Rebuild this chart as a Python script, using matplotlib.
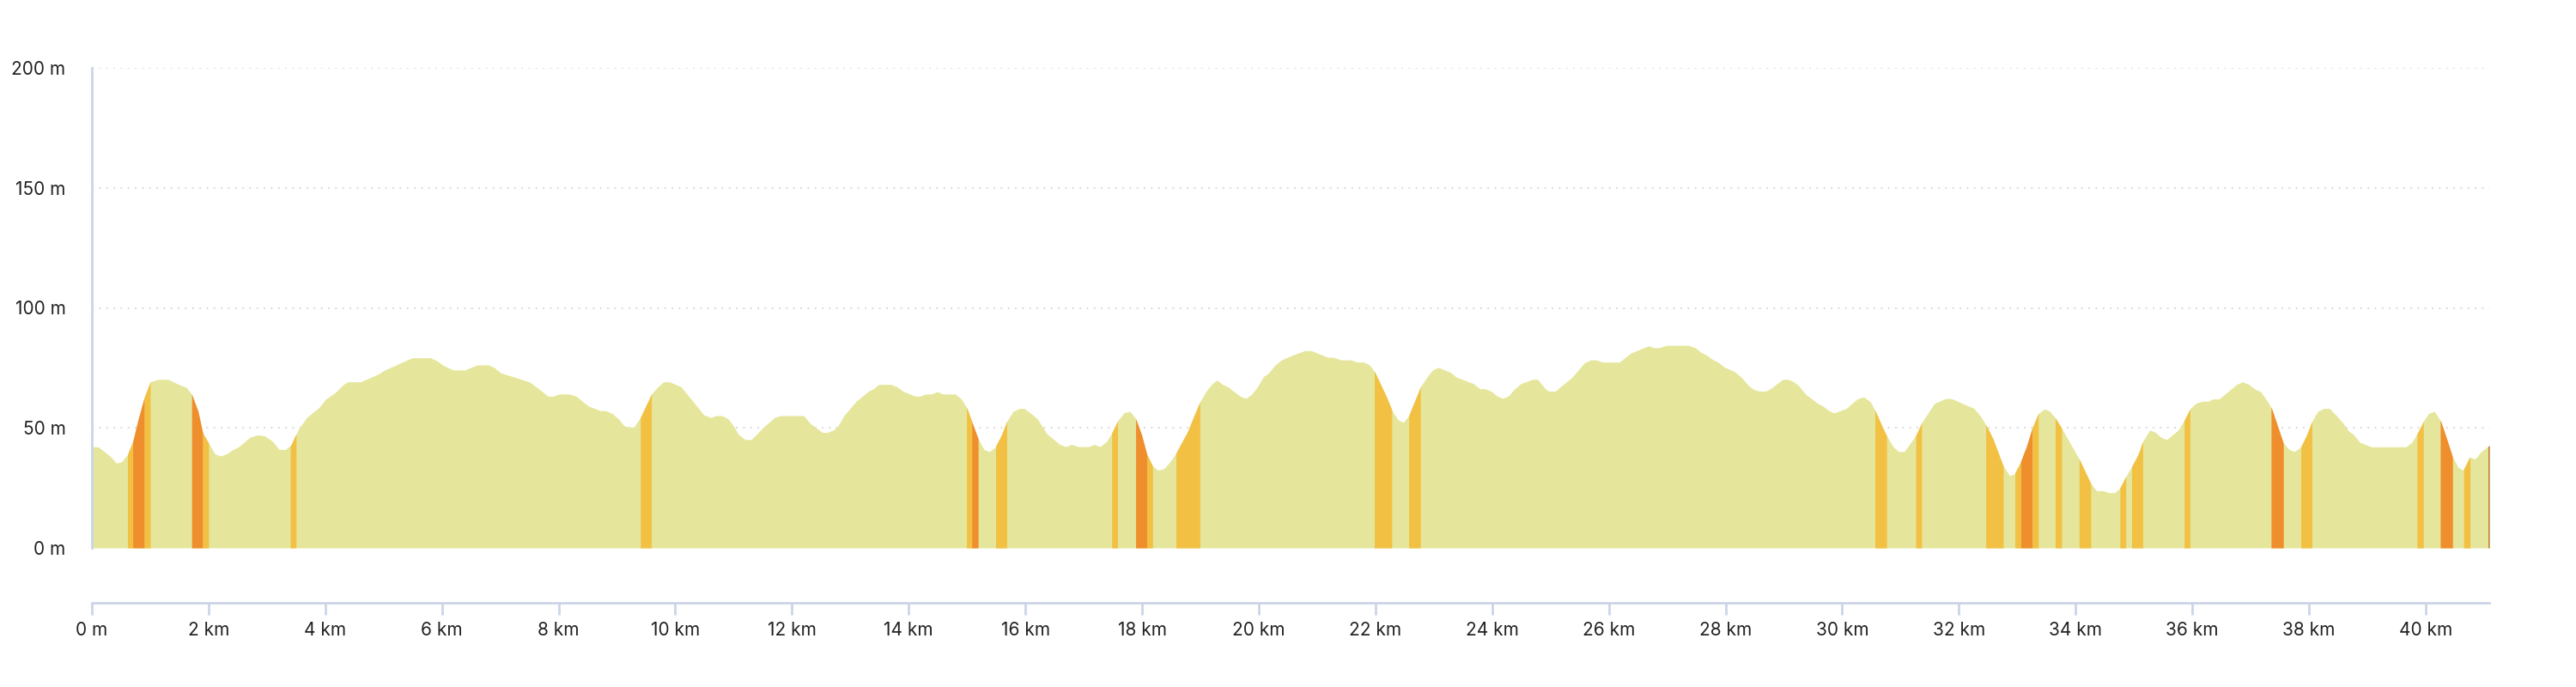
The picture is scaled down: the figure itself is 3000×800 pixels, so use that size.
import numpy as np
import matplotlib.pyplot as plt

# elevation profile (km, m)
distance_km = [
    0.00, 0.11, 0.31, 0.42, 0.51, 0.61, 0.70, 0.79, 0.90, 1.00, 1.13, 1.31, 1.46, 1.62,
    1.71, 1.82, 1.90, 2.00, 2.11, 2.21, 2.31, 2.42, 2.52, 2.71, 2.84, 2.96, 3.10, 3.21,
    3.32, 3.41, 3.50, 3.58, 3.69, 3.89, 4.01, 4.17, 4.31, 4.39, 4.61, 4.90, 5.02, 5.49,
    5.80, 5.91, 6.01, 6.19, 6.39, 6.60, 6.80, 6.90, 7.01, 7.25, 7.51, 7.82, 7.90, 8.01,
    8.18, 8.30, 8.51, 8.71, 8.80, 8.92, 9.03, 9.12, 9.20, 9.29, 9.40, 9.59, 9.70, 9.80,
    9.90, 10.10, 10.30, 10.49, 10.61, 10.69, 10.80, 10.90, 11.00, 11.08, 11.20, 11.30,
    11.39, 11.51, 11.70, 11.80, 12.20, 12.31, 12.52, 12.60, 12.71, 12.79, 12.89, 13.10,
    13.31, 13.39, 13.49, 13.70, 13.80, 13.90, 14.11, 14.19, 14.29, 14.39, 14.49, 14.59,
    14.80, 14.90, 15.00, 15.09, 15.19, 15.29, 15.38, 15.48, 15.59, 15.68, 15.79, 15.90,
    15.98, 16.08, 16.20, 16.37, 16.59, 16.69, 16.79, 16.90, 17.09, 17.18, 17.28, 17.39,
    17.48, 17.58, 17.69, 17.79, 17.89, 17.99, 18.08, 18.18, 18.28, 18.38, 18.48, 18.58,
    18.78, 18.89, 18.99, 19.10, 19.19, 19.28, 19.38, 19.47, 19.68, 19.78, 19.87, 19.97,
    20.08, 20.17, 20.28, 20.39, 20.59, 20.79, 20.90, 21.18, 21.28, 21.41, 21.58, 21.69,
    21.80, 21.90, 21.99, 22.19, 22.29, 22.39, 22.48, 22.57, 22.67, 22.77, 22.89, 22.98,
    23.08, 23.28, 23.39, 23.68, 23.79, 23.88, 23.98, 24.09, 24.18, 24.28, 24.37, 24.49,
    24.69, 24.78, 24.91, 24.97, 25.08, 25.37, 25.58, 25.69, 25.79, 25.89, 26.18, 26.38,
    26.68, 26.77, 26.87, 26.98, 27.36, 27.48, 27.59, 27.67, 27.79, 27.87, 27.98, 28.15,
    28.27, 28.40, 28.49, 28.59, 28.68, 28.77, 28.98, 29.07, 29.17, 29.26, 29.37, 29.58,
    29.67, 29.77, 29.86, 30.07, 30.26, 30.37, 30.48, 30.57, 30.69, 30.77, 30.88, 30.97,
    31.06, 31.16, 31.27, 31.36, 31.58, 31.78, 31.88, 32.26, 32.38, 32.47, 32.58, 32.76,
    32.87, 32.95, 33.05, 33.16, 33.26, 33.36, 33.47, 33.56, 33.65, 33.75, 34.06, 34.26,
    34.36, 34.47, 34.58, 34.67, 34.76, 34.86, 34.96, 35.07, 35.15, 35.27, 35.37, 35.46,
    35.56, 35.76, 35.86, 35.96, 36.06, 36.17, 36.27, 36.36, 36.46, 36.76, 36.86, 36.97,
    37.07, 37.17, 37.26, 37.36, 37.46, 37.56, 37.66, 37.75, 37.86, 37.96, 38.05, 38.15,
    38.25, 38.35, 38.46, 38.58, 38.67, 38.77, 38.87, 39.07, 39.66, 39.76, 39.86, 39.96,
    40.05, 40.15, 40.26, 40.36, 40.46, 40.56, 40.64, 40.75, 40.85, 40.95, 41.09,
]
elevation_m = [
    42.1, 42.1, 38.3, 35.3, 35.9, 38.9, 44.3, 53.3, 62.9, 69.2, 70.2, 70.2, 68.4, 66.8,
    64.1, 56.9, 47.9, 43.7, 39.1, 38.3, 39.2, 41.0, 42.2, 46.1, 47.1, 46.7, 44.3, 41.0,
    41.0, 42.8, 47.5, 50.9, 54.5, 58.4, 62.0, 64.7, 68.1, 69.2, 69.2, 72.3, 74.1, 79.2,
    79.2, 78.0, 76.2, 74.1, 74.1, 76.2, 76.2, 75.0, 72.9, 71.1, 69.0, 63.2, 63.2, 64.1,
    64.1, 63.2, 59.1, 57.2, 57.2, 56.0, 53.6, 50.9, 50.3, 50.3, 54.3, 64.1, 67.1, 69.2,
    69.2, 67.1, 61.1, 55.4, 54.3, 55.1, 55.1, 53.9, 50.7, 47.3, 45.1, 45.1,
    47.3, 50.3, 54.3, 55.1, 55.1, 51.9, 48.1, 48.1, 49.1, 50.9, 55.1, 61.1,
    65.3, 66.2, 68.1, 68.1, 67.1, 65.3, 63.2, 63.2, 64.1, 64.1, 65.1, 64.1,
    64.1, 62.1, 58.1, 52.1, 45.5, 41.0, 40.1, 41.9, 47.1, 52.7, 56.9, 58.1,
    58.1, 56.3, 53.9, 47.5, 43.1, 42.2, 43.1, 42.2, 42.2, 43.1, 42.2, 44.3,
    47.9, 52.9, 56.3, 56.9, 53.9, 47.3, 39.1, 34.1, 32.3, 33.1, 35.9, 39.5,
    48.5, 55.1, 60.8, 65.3, 68.1, 69.9, 68.1, 67.1, 63.2, 62.3, 63.9, 66.8,
    71.4, 72.9, 76.2, 78.3, 80.4, 82.2, 82.2, 79.4, 79.4, 78.3, 78.3, 77.4,
    77.4, 76.2, 73.2, 62.9, 56.9, 53.3, 52.3, 55.1, 61.1, 67.1, 71.4, 74.1,
    75.2, 73.2, 71.1, 68.4, 66.3, 66.3, 65.3, 63.2, 62.3, 63.3, 65.9, 68.4,
    70.2, 70.2, 66.3, 65.3, 65.3, 71.1, 77.1, 78.3, 78.3, 77.4, 77.4, 81.2,
    84.2, 83.4, 83.4, 84.4, 84.4, 83.4, 81.3, 80.4, 78.3, 77.4, 75.3, 73.5,
    71.1, 67.5, 65.9, 65.3, 65.3, 66.3, 70.2, 70.2, 69.2, 67.4, 64.1, 60.2,
    59.1, 57.2, 56.2, 58.1, 62.1, 62.9, 60.9, 56.9, 50.3, 46.3, 41.9, 40.1,
    40.1, 43.4, 47.3, 52.1, 60.2, 62.3, 62.1, 58.1, 54.5, 50.9, 45.7, 34.1,
    30.1, 30.8, 35.5, 42.5, 50.3, 56.0, 57.9, 56.9, 54.2, 50.3, 37.1, 26.8,
    23.8, 23.8, 23.0, 23.0, 25.0, 29.8, 33.8, 38.9, 44.3, 49.1, 48.1, 46.1,
    45.1, 49.1, 53.1, 57.9, 60.2, 61.1, 61.1, 62.1, 62.1, 68.1, 69.2, 68.1,
    66.2, 65.1, 62.1, 58.1, 50.9, 43.7, 41.0, 40.1, 42.1, 47.1, 52.7, 56.9,
    58.1, 58.1, 55.4, 52.1, 48.9, 47.1, 44.0, 42.1, 42.1, 43.9, 47.9, 52.7,
    56.0, 56.9, 52.7, 45.5, 37.9, 33.5, 32.3, 37.7, 37.1, 40.1, 42.7,
]

# gradient-coloured sections of the route
band_start_km = [0.61, 0.70, 0.90, 1.71, 1.90, 3.40, 9.40, 14.99, 15.08, 15.49,
                 17.48, 17.89, 18.08, 18.58, 21.98, 22.57, 30.56, 31.26, 32.46,
                 32.96, 33.06, 33.26, 33.65, 34.06, 34.76, 34.96, 35.86, 37.35,
                 37.86, 39.85, 40.25, 40.65, 41.07]
band_end_km = [0.70, 0.90, 1.00, 1.90, 2.00, 3.50, 9.59, 15.08, 15.19, 15.68,
               17.58, 18.08, 18.18, 18.99, 22.28, 22.77, 30.76, 31.36, 32.76,
               33.06, 33.26, 33.36, 33.76, 34.26, 34.86, 35.15, 35.96, 37.56,
               38.05, 39.96, 40.46, 40.76, 41.09]
band_grade = ['moderate', 'steep', 'moderate', 'steep', 'moderate', 'moderate',
              'moderate', 'moderate', 'steep', 'moderate', 'moderate', 'steep',
              'moderate', 'moderate', 'moderate', 'moderate', 'moderate',
              'moderate', 'moderate', 'moderate', 'steep', 'moderate', 'moderate',
              'moderate', 'moderate', 'moderate', 'moderate', 'steep', 'moderate',
              'moderate', 'steep', 'moderate', 'extreme']

y_ticks = [0, 50, 100, 150, 200]
x_ticks = list(range(0, 42, 2))

fill_color = '#e5e69b'
grade_colors = {'moderate': '#f2c144', 'steep': '#ef8e2c', 'extreme': '#b8702c'}
axis_color = '#cbd5e8'

plt.rcParams['font.family'] = ['Inter', 'DejaVu Sans']

fig = plt.figure(figsize=(30, 8), dpi=100)
ax = fig.add_axes([107 / 3000, (800 - 638) / 800, (2899 - 107) / 3000, (638 - 79) / 800])

dist = np.array(distance_km)
elev = np.array(elevation_m)
ax.fill_between(dist, 0, elev, color=fill_color, lw=0, zorder=2)

for s, e, g in zip(band_start_km, band_end_km, band_grade):
    xs = np.concatenate([[s], dist[(dist > s) & (dist < e)], [e]])
    ys = np.interp(xs, dist, elev)
    ax.fill_between(xs, 0, ys, color=grade_colors[g], lw=0, zorder=3)

ax.set_xlim(0, distance_km[-1])
ax.set_ylim(0, 200)

ax.set_yticks(y_ticks)
ax.set_yticklabels([f"{v} m" for v in y_ticks])
ax.set_xticks(x_ticks)
ax.set_xticklabels(["0 m" if v == 0 else f"{v} km" for v in x_ticks])

ax.yaxis.grid(True, color='#dedede', linestyle=(0, (1, 3)), linewidth=1.5)
ax.set_axisbelow(True)

for side in ['top', 'right']:
    ax.spines[side].set_visible(False)
ax.spines['left'].set_color(axis_color)
ax.spines['left'].set_linewidth(2)
ax.spines['bottom'].set_color(axis_color)
ax.spines['bottom'].set_linewidth(2)
ax.spines['bottom'].set_position(('outward', 46))

ax.tick_params(axis='y', length=0, pad=22, labelsize=15, labelcolor='#222222')
ax.tick_params(axis='x', length=10, width=2, color=axis_color, pad=6,
               labelsize=15, labelcolor='#222222')

fig.savefig('out.png', dpi=100)
